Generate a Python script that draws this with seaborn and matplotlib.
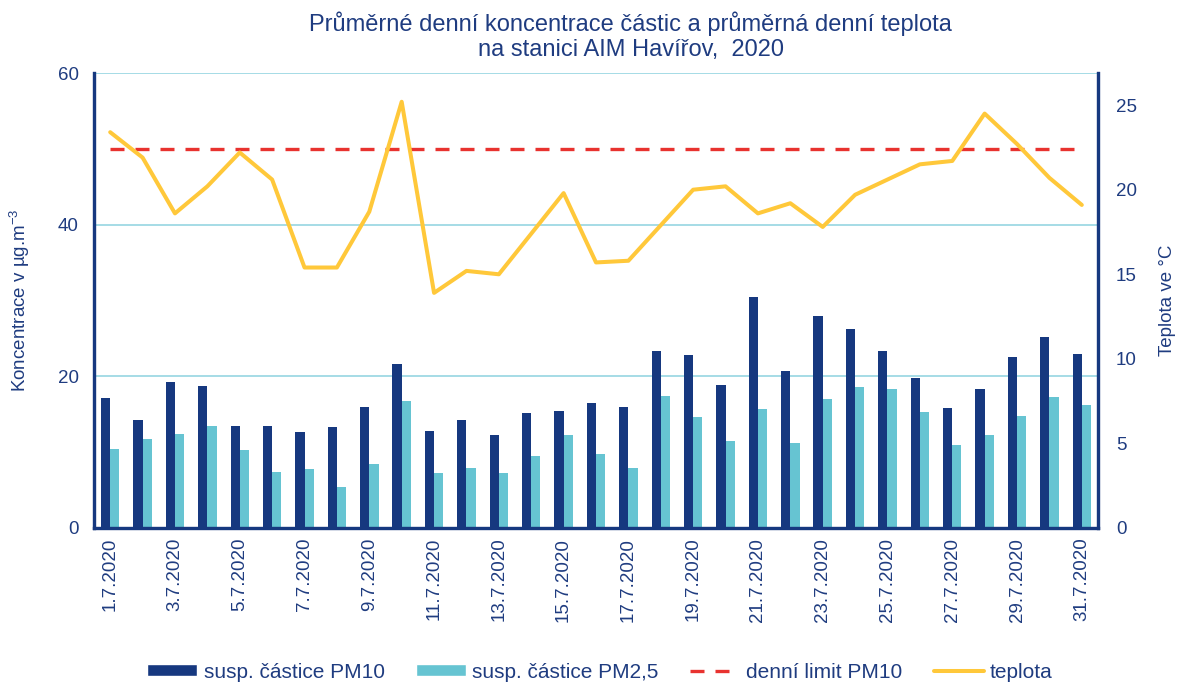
import numpy as np
import pandas as pd
import seaborn as sns
from matplotlib import pyplot as plt
from matplotlib.patches import Patch
from matplotlib.lines import Line2D

# denni prumery, cervenec 2020
days = [f"{d}.7.2020" for d in range(1, 32)]
pm10 = [17.1, 14.3, 19.3, 18.7, 13.5, 13.5, 12.6, 13.3, 16.0, 21.6, 12.8,
        14.3, 12.3, 15.1, 15.4, 16.5, 16.0, 23.3, 22.8, 18.9, 30.5, 20.7,
        28.0, 26.2, 23.3, 19.8, 15.8, 18.3, 22.5, 25.2, 22.9]
pm25 = [10.4, 11.7, 12.4, 13.5, 10.3, 7.4, 7.8, 5.4, 8.4, 16.7, 7.3,
        7.9, 7.3, 9.5, 12.3, 9.8, 7.9, 17.4, 14.7, 11.5, 15.7, 11.2,
        17.0, 18.6, 18.3, 15.3, 10.9, 12.3, 14.8, 17.3, 16.2]
temp = [23.4, 21.9, 18.6, 20.2, 22.2, 20.6, 15.4, 15.4, 18.7, 25.2, 13.9,
        15.2, 15.0, 17.4, 19.8, 15.7, 15.8, 17.9, 20.0, 20.2, 18.6, 19.2,
        17.8, 19.7, 20.6, 21.5, 21.7, 24.5, 22.7, 20.7, 19.1]
limit_pm10 = 50

series = ["susp. částice PM10", "susp. částice PM2,5"]
df = pd.DataFrame({
    "den": days * 2,
    "hodnota": pm10 + pm25,
    "serie": [series[0]] * len(days) + [series[1]] * len(days),
})
pos = np.arange(len(days))

navy = "#16387F"
cyan = "#66C4D2"
red = "#E8322F"
yellow = "#FFC83A"
grid_c = "#8DD2DF"
txt = "#1F3C80"

sns.set_style("white")
plt.rcParams["font.family"] = ["Liberation Sans", "DejaVu Sans"]
plt.rcParams["mathtext.default"] = "regular"

fig = plt.figure(figsize=(11.81, 6.86), dpi=100)
ax = fig.add_axes([94 / 1181, 1 - 528 / 686, 1004 / 1181, 455 / 686])

sns.barplot(data=df, x="den", y="hodnota", hue="serie", palette=[navy, cyan],
            saturation=1, width=0.57, gap=0, ax=ax, legend=False, linewidth=0)
sns.lineplot(x=pos, y=[limit_pm10] * len(days), ax=ax, color=red, lw=2.4,
             dashes=False)
ax.lines[-1].set_dashes((4.2, 3.3))
ax.lines[-1].set_dash_capstyle("butt")

ax.set_ylim(0, 60)
ax.set_xlim(-0.5, len(days) - 0.5)
ax.set_yticks([0, 20, 40, 60])
ax.set_xticks(pos[::2])
ax.set_xticklabels(days[::2], rotation=90)
ax.yaxis.grid(True, color=grid_c, lw=1.1)
ax.set_axisbelow(True)
ax.tick_params(axis="y", length=0, pad=11, labelsize=13.5, labelcolor=txt)
ax.tick_params(axis="x", length=0, pad=7, labelsize=13.5, labelcolor=txt)
ax.set_xlabel("")
ax.set_ylabel("Koncentrace v µg.m$^{-3}$", fontsize=13.5, color=txt)
ax.yaxis.set_label_coords(-0.062, 0.5)

ax2 = ax.twinx()
sns.lineplot(x=pos, y=temp, ax=ax2, color=yellow, lw=2.9)
ax2.set_ylim(0, 26.9)
ax2.set_yticks([0, 5, 10, 15, 20, 25])
ax2.tick_params(axis="y", length=0, pad=13, labelsize=13.5, labelcolor=txt)
ax2.set_ylabel("Teplota ve °C", fontsize=13.5, color=txt)
ax2.yaxis.set_label_coords(1.061, 0.5)

for a in (ax, ax2):
    a.spines["top"].set_visible(False)
    for s in ("left", "right", "bottom"):
        a.spines[s].set_color(navy)
        a.spines[s].set_linewidth(2.3)

fig.text(0.534, 1 - 36 / 686,
         "Průměrné denní koncentrace částic a průměrná denní teplota\n"
         "na stanici AIM Havířov,  2020",
         ha="center", va="center", fontsize=17, color=txt, linespacing=1.2)

handles = [
    Patch(facecolor=navy, label=series[0]),
    Patch(facecolor=cyan, label=series[1]),
    Line2D([], [], color=red, lw=2.4, dashes=(4.2, 3.3), label="denní limit PM10"),
    Line2D([], [], color=yellow, lw=2.9, label="teplota"),
]
leg = fig.legend(handles=handles, loc="center", bbox_to_anchor=(600 / 1181, 1 - 672 / 686),
                 ncol=4, frameon=False, fontsize=15, handlelength=2.4,
                 handleheight=0.45, handletextpad=0.3, columnspacing=1.5)
for t in leg.get_texts():
    t.set_color(txt)

plt.savefig("out.png", dpi=100)
